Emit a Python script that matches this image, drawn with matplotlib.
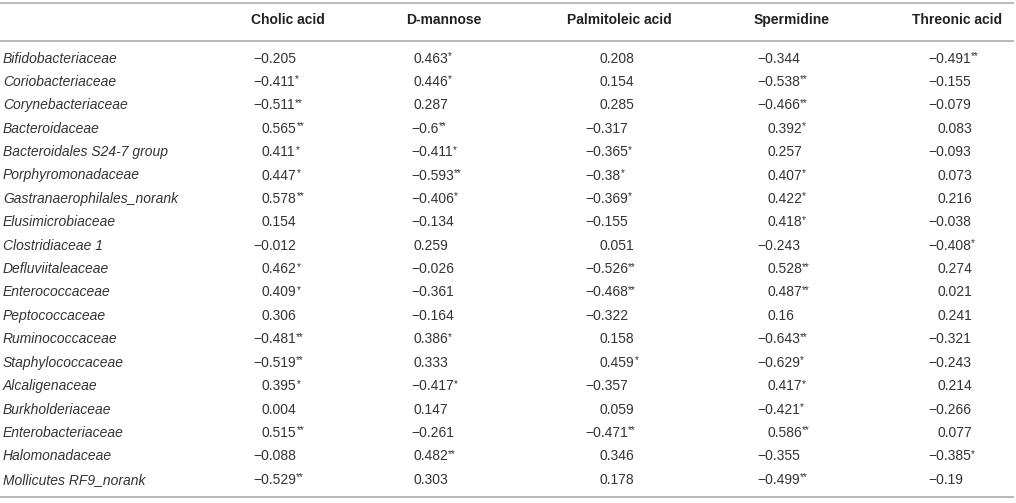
import matplotlib
matplotlib.use('Agg')
import matplotlib.pyplot as plt

plt.rcParams['font.family'] = ['Liberation Sans', 'DejaVu Sans']

# table content
metabolites = ['Cholic acid', 'D-mannose', 'Palmitoleic acid', 'Spermidine', 'Threonic acid']
families = ['Bifidobacteriaceae', 'Coriobacteriaceae', 'Corynebacteriaceae', 'Bacteroidaceae',
            'Bacteroidales S24-7 group', 'Porphyromonadaceae', 'Gastranaerophilales_norank',
            'Elusimicrobiaceae', 'Clostridiaceae 1', 'Defluviitaleaceae', 'Enterococcaceae',
            'Peptococcaceae', 'Ruminococcaceae', 'Staphylococcaceae', 'Alcaligenaceae',
            'Burkholderiaceae', 'Enterobacteriaceae', 'Halomonadaceae', 'Mollicutes RF9_norank']

cholic = [-0.205, -0.411, -0.511, 0.565, 0.411, 0.447, 0.578, 0.154, -0.012, 0.462,
          0.409, 0.306, -0.481, -0.519, 0.395, 0.004, 0.515, -0.088, -0.529]
cholic_sig = ['', '*', '**', '**', '*', '*', '**', '', '', '*',
              '*', '', '**', '**', '*', '', '**', '', '**']
mannose = [0.463, 0.446, 0.287, -0.6, -0.411, -0.593, -0.406, -0.134, 0.259, -0.026,
           -0.361, -0.164, 0.386, 0.333, -0.417, 0.147, -0.261, 0.482, 0.303]
mannose_sig = ['*', '*', '', '**', '*', '**', '*', '', '', '',
               '', '', '*', '', '*', '', '', '**', '']
palmitoleic = [0.208, 0.154, 0.285, -0.317, -0.365, -0.38, -0.369, -0.155, 0.051, -0.526,
               -0.468, -0.322, 0.158, 0.459, -0.357, 0.059, -0.471, 0.346, 0.178]
palmitoleic_sig = ['', '', '', '', '*', '*', '*', '', '', '**',
                   '**', '', '', '*', '', '', '**', '', '']
spermidine = [-0.344, -0.538, -0.466, 0.392, 0.257, 0.407, 0.422, 0.418, -0.243, 0.528,
              0.487, 0.16, -0.643, -0.629, 0.417, -0.421, 0.586, -0.355, -0.499]
spermidine_sig = ['', '**', '**', '*', '', '*', '*', '*', '', '**',
                  '**', '', '**', '*', '*', '*', '**', '', '**']
threonic = [-0.491, -0.155, -0.079, 0.083, -0.093, 0.073, 0.216, -0.038, -0.408, 0.274,
            0.021, 0.241, -0.321, -0.243, 0.214, -0.266, 0.077, -0.385, -0.19]
threonic_sig = ['**', '', '', '', '', '', '', '', '*', '',
                '', '', '', '', '', '', '', '*', '']

columns = [(cholic, cholic_sig), (mannose, mannose_sig), (palmitoleic, palmitoleic_sig),
           (spermidine, spermidine_sig), (threonic, threonic_sig)]

# layout (pixels)
W, H = 1016, 503
header_x = [288, 444, 619, 792, 957]
neg_x = [253, 411, 585, 757, 928]
pos_x = [262, 413, 600, 767, 937]
row0, row_step = 58.5, 23.4
txt_color = '#333333'
line_color = '#b4b4b4'
fs = 10

fig = plt.figure(figsize=(W / 100, H / 100), dpi=100)
ax = fig.add_axes([0, 0, 1, 1])
ax.set_xlim(0, W)
ax.set_ylim(H, 0)
ax.axis('off')

for y in (2.5, 40.5, 496.5):
    ax.plot([0, 1014], [y, y], color=line_color, lw=1.3, solid_capstyle='butt')

for x, name in zip(header_x, metabolites):
    ax.text(x, 20, name, ha='center', va='center', fontsize=fs, fontweight='bold', color='#222222')

renderer = fig.canvas.get_renderer()
inv = ax.transData.inverted()

for i, fam in enumerate(families):
    y = row0 + i * row_step
    ax.text(3, y, fam, ha='left', va='center', fontsize=fs, style='italic', color=txt_color)
    for j, (vals, sig) in enumerate(columns):
        v = vals[i]
        s = ('\u2212' if v < 0 else '') + f"{abs(v):g}"
        x = neg_x[j] if v < 0 else pos_x[j]
        t = ax.text(x, y, s, ha='left', va='center', fontsize=fs, color=txt_color)
        if sig[i]:
            bb = t.get_window_extent(renderer)
            xr = inv.transform((bb.x1, bb.y1))[0]
            ax.text(xr + 0.3, y - 2.5, sig[i], ha='left', va='center', fontsize=fs * 0.72,
                    color=txt_color)

fig.savefig('out.png', dpi=100)
